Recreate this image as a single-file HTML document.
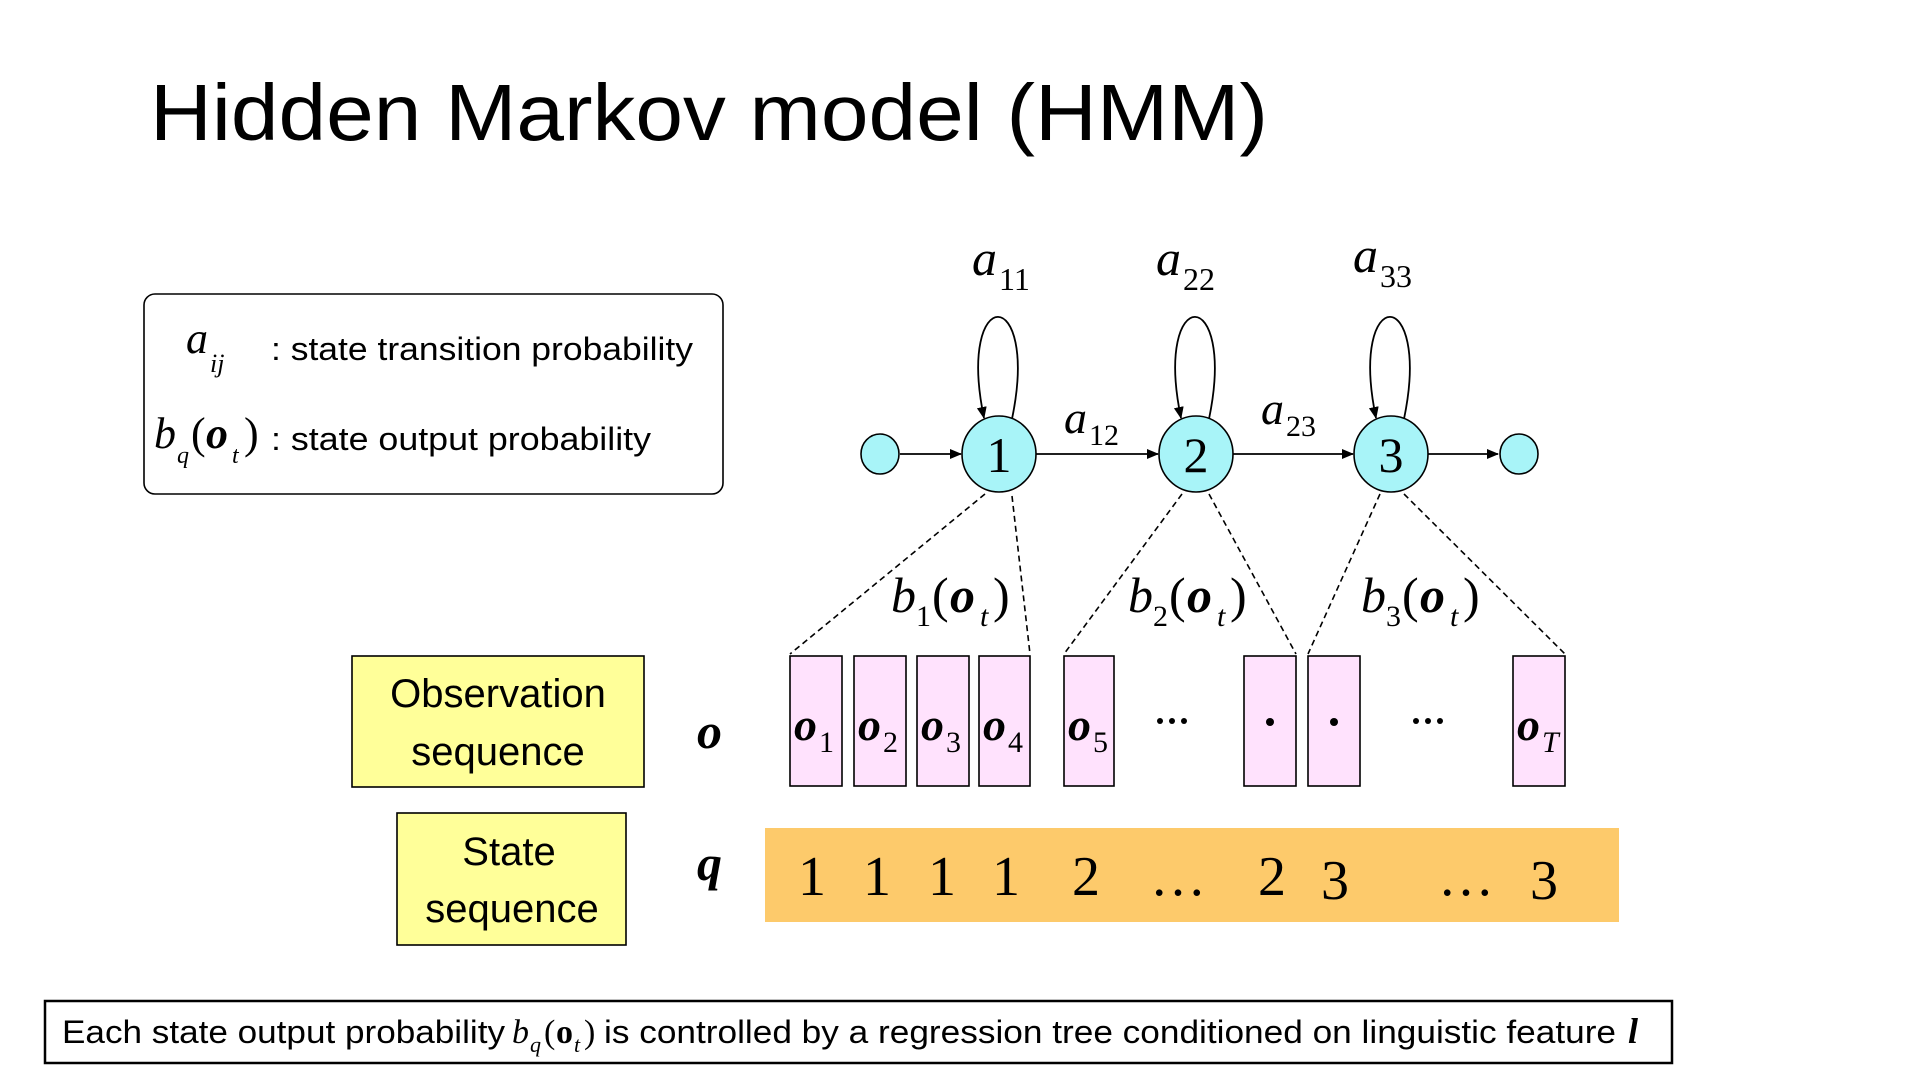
<!DOCTYPE html>
<html><head><meta charset="utf-8"><style>
html,body{margin:0;padding:0;background:#fff;}
svg{display:block;}
.s{font-family:"Liberation Sans",sans-serif;}
.m{font-family:"Liberation Serif",serif;}
</style></head><body>
<svg width="1920" height="1080" viewBox="0 0 1920 1080" xmlns="http://www.w3.org/2000/svg">
<defs>
<marker id="ar" markerWidth="12" markerHeight="10" refX="11" refY="5" orient="auto" markerUnits="userSpaceOnUse">
<path d="M0,0 L12,5 L0,10 Z" fill="#000"/></marker>
</defs>
<text class="s" x="150" y="140" font-size="80" textLength="1118" lengthAdjust="spacingAndGlyphs">Hidden Markov model (HMM)</text>

<rect x="144" y="294" width="579" height="200" rx="11" fill="#fff" stroke="#000" stroke-width="1.6"/>
<text class="m" x="186" y="353" font-size="44" font-style="italic">a</text>
<text class="m" x="210" y="372" font-size="26" font-style="italic">ij</text>
<text class="s" x="271" y="360" font-size="32" textLength="422" lengthAdjust="spacingAndGlyphs">: state transition probability</text>
<text class="m" x="154" y="448" font-size="44" font-style="italic">b</text>
<text class="m" x="177" y="463" font-size="24" font-style="italic">q</text>
<text class="m" x="191" y="448" font-size="44">(</text>
<text class="m" x="206" y="448" font-size="44" font-style="italic" font-weight="bold">o</text>
<text class="m" x="232" y="463" font-size="24" font-style="italic">t</text>
<text class="m" x="244" y="448" font-size="44">)</text>
<text class="s" x="271" y="450" font-size="32" textLength="380" lengthAdjust="spacingAndGlyphs">: state output probability</text>

<!-- dashed lines -->
<g stroke="#000" stroke-width="1.6" stroke-dasharray="6,4" fill="none">
<line x1="985" y1="494" x2="790" y2="654"/><line x1="1012" y1="496" x2="1030" y2="654"/>
<line x1="1182" y1="494" x2="1064" y2="654"/><line x1="1209" y1="494" x2="1296" y2="654"/>
<line x1="1380" y1="494" x2="1308" y2="654"/><line x1="1404" y1="494" x2="1565" y2="654"/>
</g>
<!-- arrows -->
<g stroke="#000" stroke-width="1.8" fill="none">
<line x1="900" y1="454" x2="961" y2="454" marker-end="url(#ar)"/>
<line x1="1036" y1="454" x2="1158" y2="454" marker-end="url(#ar)"/>
<line x1="1233" y1="454" x2="1353" y2="454" marker-end="url(#ar)"/>
<line x1="1428" y1="454" x2="1498" y2="454" marker-end="url(#ar)"/>
<path d="M1012,419 C1040,283 956,283 984,418" marker-end="url(#ar)"/>
<path d="M1209,419 C1237,283 1153,283 1181,418" marker-end="url(#ar)"/>
<path d="M1404,419 C1432,283 1348,283 1376,418" marker-end="url(#ar)"/>
</g>
<g fill="#a8f4f8" stroke="#000" stroke-width="1.6">
<ellipse cx="880" cy="454" rx="19" ry="20"/>
<ellipse cx="999" cy="454" rx="37" ry="38"/>
<ellipse cx="1196" cy="454" rx="37" ry="38"/>
<ellipse cx="1391" cy="454" rx="37" ry="38"/>
<ellipse cx="1519" cy="454" rx="19" ry="20"/>
</g>
<g class="m" font-size="50" text-anchor="middle">
<text x="999" y="472">1</text><text x="1196" y="472">2</text><text x="1391" y="472">3</text>
</g>
<g class="m" font-style="italic">
<text x="972" y="275" font-size="50">a</text><text x="999" y="290" font-size="32" font-style="normal">11</text>
<text x="1156" y="275" font-size="50">a</text><text x="1183" y="290" font-size="32" font-style="normal">22</text>
<text x="1353" y="272" font-size="50">a</text><text x="1380" y="287" font-size="32" font-style="normal">33</text>
<text x="1064" y="433" font-size="46">a</text><text x="1089" y="445" font-size="30" font-style="normal">12</text>
<text x="1261" y="424" font-size="46">a</text><text x="1286" y="436" font-size="30" font-style="normal">23</text>
</g>
<g class="m" font-size="50">
<text x="891" y="612" font-style="italic">b</text><text x="916" y="626" font-size="30">1</text><text x="932" y="612">(</text><text x="950" y="612" font-style="italic" font-weight="bold">o</text><text x="980" y="626" font-size="30" font-style="italic">t</text><text x="993" y="612">)</text>
<text x="1128" y="612" font-style="italic">b</text><text x="1153" y="626" font-size="30">2</text><text x="1169" y="612">(</text><text x="1187" y="612" font-style="italic" font-weight="bold">o</text><text x="1217" y="626" font-size="30" font-style="italic">t</text><text x="1230" y="612">)</text>
<text x="1361" y="612" font-style="italic">b</text><text x="1386" y="626" font-size="30">3</text><text x="1402" y="612">(</text><text x="1420" y="612" font-style="italic" font-weight="bold">o</text><text x="1450" y="626" font-size="30" font-style="italic">t</text><text x="1463" y="612">)</text>
</g>

<!-- observation boxes -->
<g fill="#ffe2fd" stroke="#000" stroke-width="1.6">
<rect x="790" y="656" width="52" height="130"/>
<rect x="854" y="656" width="52" height="130"/>
<rect x="917" y="656" width="52" height="130"/>
<rect x="979" y="656" width="51" height="130"/>
<rect x="1064" y="656" width="50" height="130"/>
<rect x="1244" y="656" width="52" height="130"/>
<rect x="1308" y="656" width="52" height="130"/>
<rect x="1513" y="656" width="52" height="130"/>
</g>
<g class="m" font-size="46" font-style="italic" font-weight="bold">
<text x="794" y="740">o</text><text x="858" y="740">o</text><text x="921" y="740">o</text><text x="983" y="740">o</text><text x="1068" y="740">o</text><text x="1517" y="740">o</text>
</g>
<g class="m" font-size="30">
<text x="819" y="752">1</text><text x="883" y="752">2</text><text x="946" y="752">3</text><text x="1008" y="752">4</text><text x="1093" y="752">5</text><text x="1542" y="752" font-style="italic">T</text>
</g>
<g fill="#000"><circle cx="1270" cy="722" r="4"/><circle cx="1334" cy="722" r="4"/>
<circle cx="1160" cy="721" r="3"/><circle cx="1172" cy="721" r="3"/><circle cx="1184" cy="721" r="3"/>
<circle cx="1416" cy="721" r="3"/><circle cx="1428" cy="721" r="3"/><circle cx="1440" cy="721" r="3"/></g>

<!-- yellow labels -->
<rect x="352" y="656" width="292" height="131" fill="#ffff99" stroke="#000" stroke-width="1.6"/>
<text class="s" x="498" y="707" font-size="40" text-anchor="middle">Observation</text>
<text class="s" x="498" y="765" font-size="40" text-anchor="middle">sequence</text>
<rect x="397" y="813" width="229" height="132" fill="#ffff99" stroke="#000" stroke-width="1.6"/>
<text class="s" x="509" y="865" font-size="40" text-anchor="middle">State</text>
<text class="s" x="512" y="922" font-size="40" text-anchor="middle">sequence</text>
<text class="m" x="697" y="748" font-size="50" font-style="italic" font-weight="bold">o</text>
<text class="m" x="697" y="880" font-size="50" font-style="italic" font-weight="bold">q</text>

<rect x="765" y="828" width="854" height="94" fill="#fdca6b"/>
<g class="m" font-size="56" text-anchor="middle">
<text x="812" y="895">1</text><text x="877" y="895">1</text><text x="942" y="895">1</text><text x="1006" y="895">1</text><text x="1086" y="895">2</text><text x="1178" y="895">…</text><text x="1272" y="895">2</text><text x="1335" y="899">3</text><text x="1466" y="895">…</text><text x="1544" y="899">3</text>
</g>

<rect x="45" y="1001" width="1627" height="62" fill="#fff" stroke="#000" stroke-width="2.5"/>
<text class="s" x="62" y="1043" font-size="32" textLength="443" lengthAdjust="spacingAndGlyphs">Each state output probability</text>
<text class="m" x="512" y="1043" font-size="34" font-style="italic">b</text>
<text class="m" x="530" y="1052" font-size="22" font-style="italic">q</text>
<text class="m" x="544" y="1043" font-size="34">(</text>
<text class="m" x="556" y="1043" font-size="34" font-weight="bold">o</text>
<text class="m" x="574" y="1052" font-size="22" font-style="italic">t</text>
<text class="m" x="584" y="1043" font-size="34">)</text>
<text class="s" x="604" y="1043" font-size="32" textLength="1012" lengthAdjust="spacingAndGlyphs">is controlled by a regression tree conditioned on linguistic feature</text>
<text class="m" x="1628" y="1043" font-size="36" font-style="italic" font-weight="bold">l</text>
</svg>
</body></html>
